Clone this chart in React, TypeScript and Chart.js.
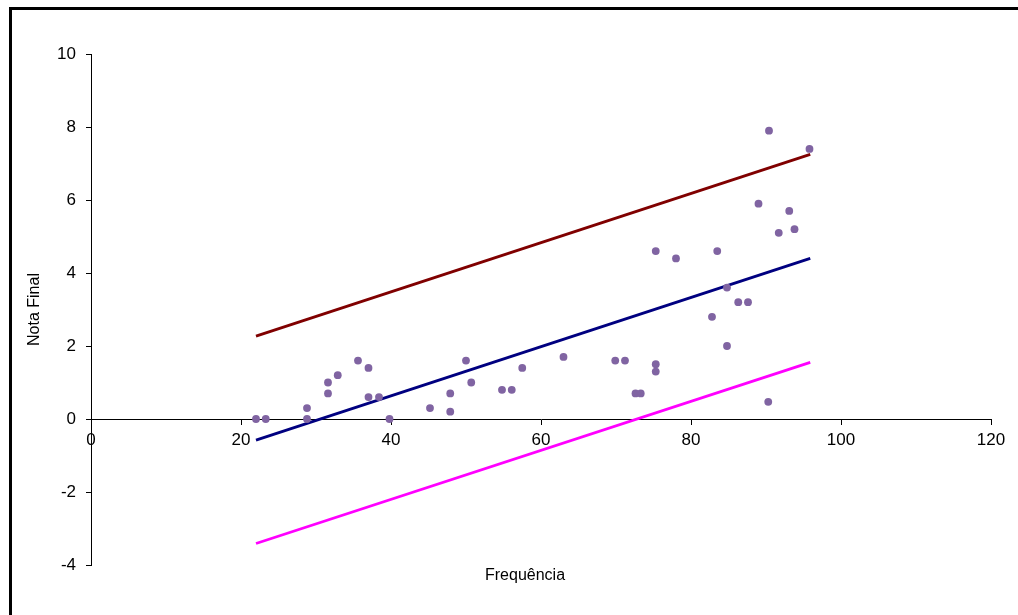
import React, { useEffect, useRef } from "react";
import { Chart, registerables } from "chart.js";

Chart.register(...registerables);

const frequencia = [22.0, 23.3, 28.8, 28.8, 31.6, 31.6, 32.9, 35.6, 37.0, 37.0, 38.4, 39.8, 45.2, 47.9, 47.9, 50.0, 50.7, 54.8, 56.1, 57.5, 63.0, 69.9, 71.2, 72.6, 73.3, 75.3, 75.3, 75.3, 78.0, 82.8, 83.5, 84.8, 84.8, 86.3, 87.6, 89.0, 90.3, 90.4, 91.7, 93.1, 93.8, 95.8];
const notaFinal = [0, 0, 0.3, 0, 1.0, 0.7, 1.2, 1.6, 1.4, 0.6, 0.6, 0, 0.3, 0.7, 0.2, 1.6, 1.0, 0.8, 0.8, 1.4, 1.7, 1.6, 1.6, 0.7, 0.7, 1.5, 1.3, 4.6, 4.4, 2.8, 4.6, 3.6, 2.0, 3.2, 3.2, 5.9, 0.47, 7.9, 5.1, 5.7, 5.2, 7.4];

const lineX = [22.0, 95.9];
const regressao = [-0.58, 4.40];
const limiteSuperior = [2.27, 7.25];
const limiteInferior = [-3.41, 1.55];

const xTitle = "Frequência";
const yTitle = "Nota Final";

const FONT = "'Liberation Sans', Arial, sans-serif";

export default function App() {
  const ref = useRef<HTMLCanvasElement>(null);

  useEffect(() => {
    if (!ref.current) return;
    const pts = (xs: number[], ys: number[]) => xs.map((x, i) => ({ x, y: ys[i] }));
    const xTitlePlugin = {
      id: "xTitlePlugin",
      afterDraw(chart: any) {
        const ctx = chart.ctx;
        ctx.save();
        ctx.font = `16px ${FONT}`;
        ctx.fillStyle = "#000";
        ctx.textAlign = "center";
        ctx.textBaseline = "alphabetic";
        ctx.fillText(xTitle, 525, 580);
        ctx.restore();
      },
    };
    const chart = new Chart(ref.current, {
      type: "scatter",
      data: {
        datasets: [
          {
            label: "Dados",
            data: pts(frequencia, notaFinal),
            backgroundColor: "#8064A2",
            borderColor: "#8064A2",
            borderWidth: 0,
            pointRadius: 3.9,
            showLine: false,
          },
          {
            label: "Regressão",
            data: pts(lineX, regressao),
            showLine: true,
            borderColor: "#000080",
            borderWidth: 2.8,
            pointRadius: 0,
          },
          {
            label: "Superior",
            data: pts(lineX, limiteSuperior),
            showLine: true,
            borderColor: "#800000",
            borderWidth: 2.8,
            pointRadius: 0,
          },
          {
            label: "Inferior",
            data: pts(lineX, limiteInferior),
            showLine: true,
            borderColor: "#FF00FF",
            borderWidth: 2.8,
            pointRadius: 0,
          },
        ],
      },
      options: {
        responsive: false,
        animation: false,
        layout: { padding: { left: 0, right: 27, top: 54, bottom: 50 } },
        plugins: {
          legend: { display: false },
          tooltip: { enabled: false },
        },
        scales: {
          x: {
            type: "linear",
            position: { y: 0 } as any,
            min: 0,
            max: 120,
            ticks: {
              stepSize: 20,
              padding: 6,
              color: "#000",
              font: { family: FONT, size: 17 },
            },
            grid: {
              drawOnChartArea: false,
              drawTicks: true,
              tickLength: 5,
              color: "#000",
            },
            border: { display: true, color: "#000", width: 1 },
          },
          y: {
            type: "linear",
            position: "left",
            min: -4,
            max: 10,
            afterFit: (s: any) => {
              s.width = 91;
            },
            ticks: {
              stepSize: 2,
              padding: 10,
              color: "#000",
              font: { family: FONT, size: 17 },
            },
            grid: {
              drawOnChartArea: false,
              drawTicks: true,
              tickLength: 5,
              color: "#000",
            },
            border: { display: true, color: "#000", width: 1 },
            title: {
              display: true,
              text: yTitle,
              color: "#000",
              font: { family: FONT, size: 16 },
              padding: { top: 25, bottom: 0 },
            },
          },
        },
      },
      plugins: [xTitlePlugin],
    });
    return () => chart.destroy();
  }, []);

  return (
    <div
      style={{
        position: "fixed",
        left: 0,
        top: 0,
        width: 1018,
        height: 615,
        overflow: "hidden",
        background: "#fff",
      }}
    >
      <div
        style={{
          position: "absolute",
          left: 9,
          top: 7,
          width: 1100,
          height: 700,
          border: "3px solid #000",
          boxSizing: "border-box",
        }}
      />
      <canvas
        ref={ref}
        width={1018}
        height={615}
        style={{ position: "absolute", left: 0, top: 0, width: 1018, height: 615 }}
      />
    </div>
  );
}
